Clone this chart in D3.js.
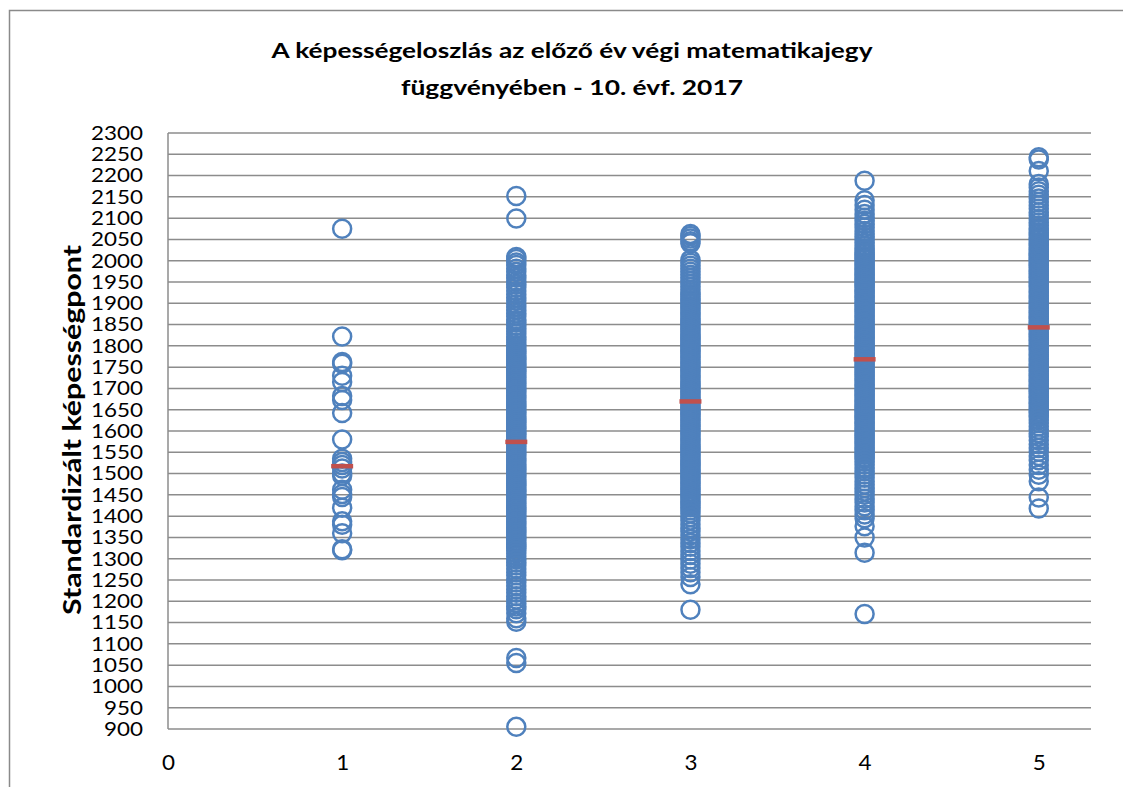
<!DOCTYPE html>
<html><head><meta charset="utf-8">
<script src="https://cdn.jsdelivr.net/npm/d3@7"></script>
<style>
html,body{margin:0;padding:0;background:#fff;}
svg{display:block;font-family:Lato,"Open Sans",sans-serif;}
</style></head>
<body><svg id="c" width="1123" height="787"></svg>
<script>
const titleLines = ["A képességeloszlás az előző év végi matematikajegy", "függvényében - 10. évf. 2017"];
const yAxisTitle = "Standardizált képességpont";
const xTicks = [0, 1, 2, 3, 4, 5];
const yTicks = [900,950,1000,1050,1100,1150,1200,1250,1300,1350,1400,1450,1500,1550,1600,1650,1700,1750,1800,1850,1900,1950,2000,2050,2100,2150,2200,2250,2300];
const grades = [1, 2, 3, 4, 5];
const grade1 = [2075,1822,1762,1758,1730,1715,1682,1673,1642,1580,1535,1527,1520,1512,1500,1495,1462,1452,1445,1420,1388,1380,1360,1322,1320];
const grade2 = [2152,2099,2009,2004,1996,1990,1981,1974,1966,1960,1951,1944,1937,1929,1921,1913,1906,1898,1891,1884,1876,1869,1861,1855,1848,1841,1834,1828,1821,1815,1808,1802,1796,1791,
1786,1782,1777,1772,1768,1763,1758,1754,1749,1744,1740,1735,1731,1726,1721,1717,1712,1707,1703,1698,1694,1689,1684,1680,1675,1670,1666,1661,1657,1652,1647,1643,1638,1633,1629,1624,1620,1615,1610,1606,1601,1596,1592,1587,1583,1578,1573,1569,1564,1559,1555,1550,1546,1541,1536,1532,1527,1522,1518,1513,1509,1504,1499,1495,1490,1485,1481,1476,1472,1467,1462,1458,1453,1448,1444,1439,1435,1430,1425,1421,1416,1411,1407,1402,1398,1393,1388,1384,1379,1374,1370,1365,1361,1356,1351,1347,1342,1337,1333,1328,1324,1319,
1313,1306,1299,1291,1284,1276,1268,1261,1252,1244,1236,1228,1220,1212,1204,1196,1188,1181,1172,1160,1152,1067,1055,905];
const grade3 = [2063,2058,2052,2046,2041,2002,1995,1988,1981,1974,1967,1960,1953,1946,1939,1932,1926,
1921,1916,1912,1907,1902,1898,1893,1889,1884,1879,1875,1870,1865,1861,1856,1852,1847,1842,1838,1833,1828,1824,1819,1815,1810,1805,1801,1796,1791,1787,1782,1778,1773,1768,1764,1759,1754,1750,1745,1741,1736,1731,1727,1722,1717,1713,1708,1704,1699,1694,1690,1685,1680,1676,1671,1667,1662,1657,1653,1648,1643,1639,1634,1630,1625,1620,1616,1611,1606,1602,1597,1593,1588,1583,1579,1574,1569,1565,1560,1556,1551,1546,1542,1537,1532,1528,1523,1519,1514,1509,1505,1500,1495,1491,1486,1482,1477,1472,1468,1463,1458,1454,1449,1445,1440,1435,1431,1426,1421,
1414,1406,1398,1390,1381,1372,1364,1355,1346,1337,1328,1318,1309,1298,1288,1278,1268,1257,1240,1180];
const grade4 = [2188,2142,2131,2120,2110,2101,2094,2086,2078,2070,2063,2056,2049,2042,2035,2029,
2025,2020,2016,2011,2006,2002,1997,1992,1988,1983,1979,1974,1969,1965,1960,1955,1951,1946,1942,1937,1932,1928,1923,1918,1914,1909,1905,1900,1895,1891,1886,1881,1877,1872,1868,1863,1858,1854,1849,1844,1840,1835,1831,1826,1821,1817,1812,1807,1803,1798,1794,1789,1784,1780,1775,1770,1766,1761,1757,1752,1747,1743,1738,1733,1729,1724,1720,1715,1710,1706,1701,1696,1692,1687,1683,1678,1673,1669,1664,1659,1655,1650,1646,1641,1636,1632,1627,1622,1618,1613,1609,1604,1599,1595,1590,1585,1581,1576,1572,1567,1562,1558,1553,1548,1544,1539,1535,
1528,1521,1513,1506,1498,1490,1482,1474,1466,1458,1450,1441,1432,1423,1414,1404,1395,1376,1350,1314,1170];
const grade5 = [2243,2238,2211,2180,2172,2163,2155,2146,2138,2130,2122,2114,2106,2098,2090,2083,2076,
2072,2067,2063,2058,2053,2049,2044,2039,2035,2030,2026,2021,2016,2012,2007,2002,1998,1993,1989,1984,1979,1975,1970,1965,1961,1956,1952,1947,1942,1938,1933,1928,1924,1919,1915,1910,1905,1901,1896,1891,1887,1882,1878,1873,1868,1864,1859,1854,1850,1845,1841,1836,1831,1827,1822,1817,1813,1808,1804,1799,1794,1790,1785,1780,1776,1771,1767,1762,1757,1753,1748,1743,1739,1734,1730,1725,1720,1716,1711,1706,1702,1697,1693,1688,1683,1679,1674,1669,1665,1660,1656,1651,1646,1642,1637,1633,
1626,1619,1611,1603,1595,1587,1578,1569,1560,1551,1541,1531,1520,1509,1497,1482,1444,1418];
const gradeMeans = [1518, 1575, 1670, 1769, 1844];

const seriesByGrade = [grade1, grade2, grade3, grade4, grade5];
const points = [];
grades.forEach((g, i) => seriesByGrade[i].forEach(v => points.push({x: g, y: v})));
const means = grades.map((g, i) => ({x: g, y: gradeMeans[i]}));

const svg = d3.select("#c");
const pLeft = 168, pRight = 1091, pTop = 133, pBottom = 729;
const x = d3.scaleLinear().domain([0, 5.3]).range([pLeft, pRight]);
const y = d3.scaleLinear().domain([900, 2300]).range([pBottom, pTop]);
const digitW = 13;

// chart border
svg.append("path").attr("d", "M9.5,787 V10.5 H1123").attr("fill", "none").attr("stroke", "#8a8a8a").attr("stroke-width", 1.5);

// title
const titleWidths = [601, 342];
svg.append("g").selectAll("text").data(titleLines).join("text")
  .attr("x", 572).attr("y", (d, i) => 58 + i * 37)
  .attr("text-anchor", "middle").attr("font-weight", "bold").attr("font-size", 21.5)
  .attr("textLength", (d, i) => titleWidths[i]).attr("lengthAdjust", "spacingAndGlyphs")
  .attr("fill", "#000").text(d => d);

// gridlines
svg.append("g").selectAll("line").data(yTicks).join("line")
  .attr("x1", pLeft).attr("x2", pRight).attr("y1", d => y(d)).attr("y2", d => y(d))
  .attr("stroke", "#8c8c8c").attr("stroke-width", 1.5);
svg.append("line").attr("x1", pLeft).attr("x2", pLeft).attr("y1", pTop).attr("y2", pBottom)
  .attr("stroke", "#8c8c8c").attr("stroke-width", 1.5);

// y axis
const yAxis = d3.axisLeft(y).tickValues(yTicks).tickSize(0).tickPadding(25).tickFormat(d3.format("d"));
const gy = svg.append("g").attr("transform", `translate(${pLeft},0)`).call(yAxis);
gy.select(".domain").remove();
gy.selectAll("text").attr("font-size", 20).attr("font-family", "Lato, 'Open Sans', sans-serif").attr("fill", "#000")
  .attr("textLength", d => String(d).length * digitW).attr("lengthAdjust", "spacingAndGlyphs");

// x axis
const xAxis = d3.axisBottom(x).tickValues(xTicks).tickSize(0).tickPadding(26).tickFormat(d3.format("d"));
const gx = svg.append("g").attr("transform", `translate(0,${pBottom})`).call(xAxis);
gx.select(".domain").remove();
gx.selectAll("text").attr("font-size", 20.5).attr("font-family", "Lato, 'Open Sans', sans-serif").attr("fill", "#000")
  .attr("textLength", d => String(d).length * digitW).attr("lengthAdjust", "spacingAndGlyphs");

// y axis title
svg.append("text").attr("transform", "translate(81,430) rotate(-90)")
  .attr("text-anchor", "middle").attr("font-weight", "bold").attr("font-size", 24)
  .attr("textLength", 370).attr("lengthAdjust", "spacingAndGlyphs")
  .attr("fill", "#000").text(yAxisTitle);

// points
svg.append("g").selectAll("circle").data(points).join("circle")
  .attr("cx", d => x(d.x)).attr("cy", d => y(d.y)).attr("r", 9)
  .attr("fill", "none").attr("stroke", "#4F81BD").attr("stroke-width", 2.5);

// means
svg.append("g").selectAll("rect").data(means).join("rect")
  .attr("x", d => x(d.x) - 11).attr("y", d => y(d.y) - 2).attr("width", 22).attr("height", 4.5)
  .attr("fill", "#C0504D");
</script></body></html>
